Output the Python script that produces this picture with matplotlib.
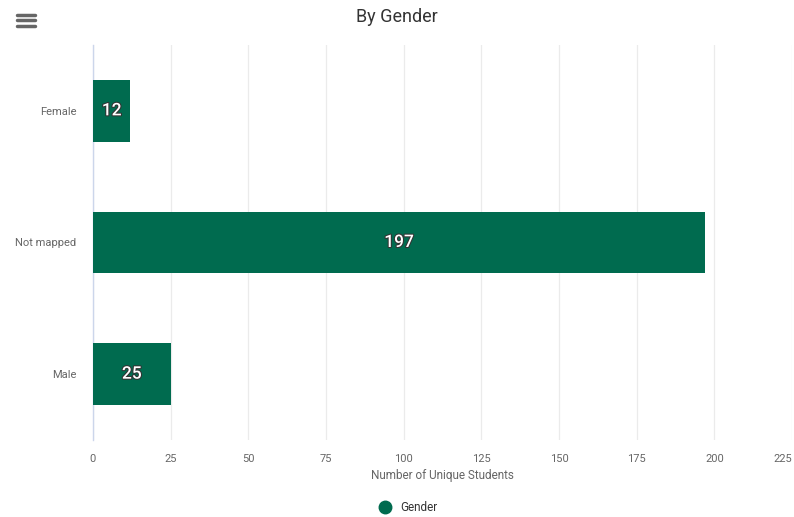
import matplotlib
matplotlib.use("Agg")
import matplotlib.pyplot as plt
import matplotlib.patheffects as pe
from matplotlib.lines import Line2D

plt.rcParams['font.family'] = ['Roboto', 'DejaVu Sans']

categories = ["Female", "Not mapped", "Male"]
values = [12, 197, 25]
xticks = [0, 25, 50, 75, 100, 125, 150, 175, 200, 225]
title = "By Gender"
xlabel = "Number of Unique Students"
series_name = "Gender"
color = "#006B4F"

fig = plt.figure(figsize=(7.94, 5.17), dpi=100)
ax = fig.add_axes([93/794, 1-440/517, (792-93)/794, (440-45)/517])

ypos = list(range(len(categories)))
bars = ax.barh(ypos, values, height=0.47, color=color, zorder=3)
ax.set_ylim(len(categories)-0.5, -0.5)
ax.set_xlim(0, 225)
ax.set_xticks(xticks)
ax.set_yticks(ypos)
ax.set_yticklabels(categories)
ax.tick_params(axis='both', length=0, labelsize=8, labelcolor='#666666')
ax.tick_params(axis='x', pad=10)
ax.tick_params(axis='y', pad=12)
ax.get_xticklabels()[-1].set_horizontalalignment('right')
ax.grid(axis='x', color='#ebebeb', linewidth=0.9, zorder=0)
for s in ['top', 'right', 'bottom']:
    ax.spines[s].set_visible(False)
ax.spines['left'].set_color('#ccd6eb')
ax.spines['left'].set_linewidth(1)
ax.set_xlabel(xlabel, fontsize=8.5, color='#666666', labelpad=4)

for b, v in zip(bars, values):
    ax.text(b.get_width()/2, b.get_y()+b.get_height()/2, str(v), ha='center', va='center',
            color='white', fontsize=12.5, fontweight='medium', zorder=5,
            path_effects=[pe.withStroke(linewidth=1.5, foreground='#333333')])

fig.text(0.5, 1-17/517, title, ha='center', va='center', fontsize=13, color='#333333')

# hamburger menu icon
for yy in [15, 20.5, 26]:
    fig.add_artist(Line2D([17/794, 35/794], [1-yy/517, 1-yy/517], color='#666666', linewidth=2.5,
                          solid_capstyle='round'))

handle = Line2D([], [], marker='o', linestyle='none', markersize=9, color=color)
fig.legend([handle], [series_name], loc='center', bbox_to_anchor=(0.51, 1-508/517),
           frameon=False, fontsize=8.5, handletextpad=0.3, labelcolor='#333333')

fig.savefig("out.png", dpi=100)
